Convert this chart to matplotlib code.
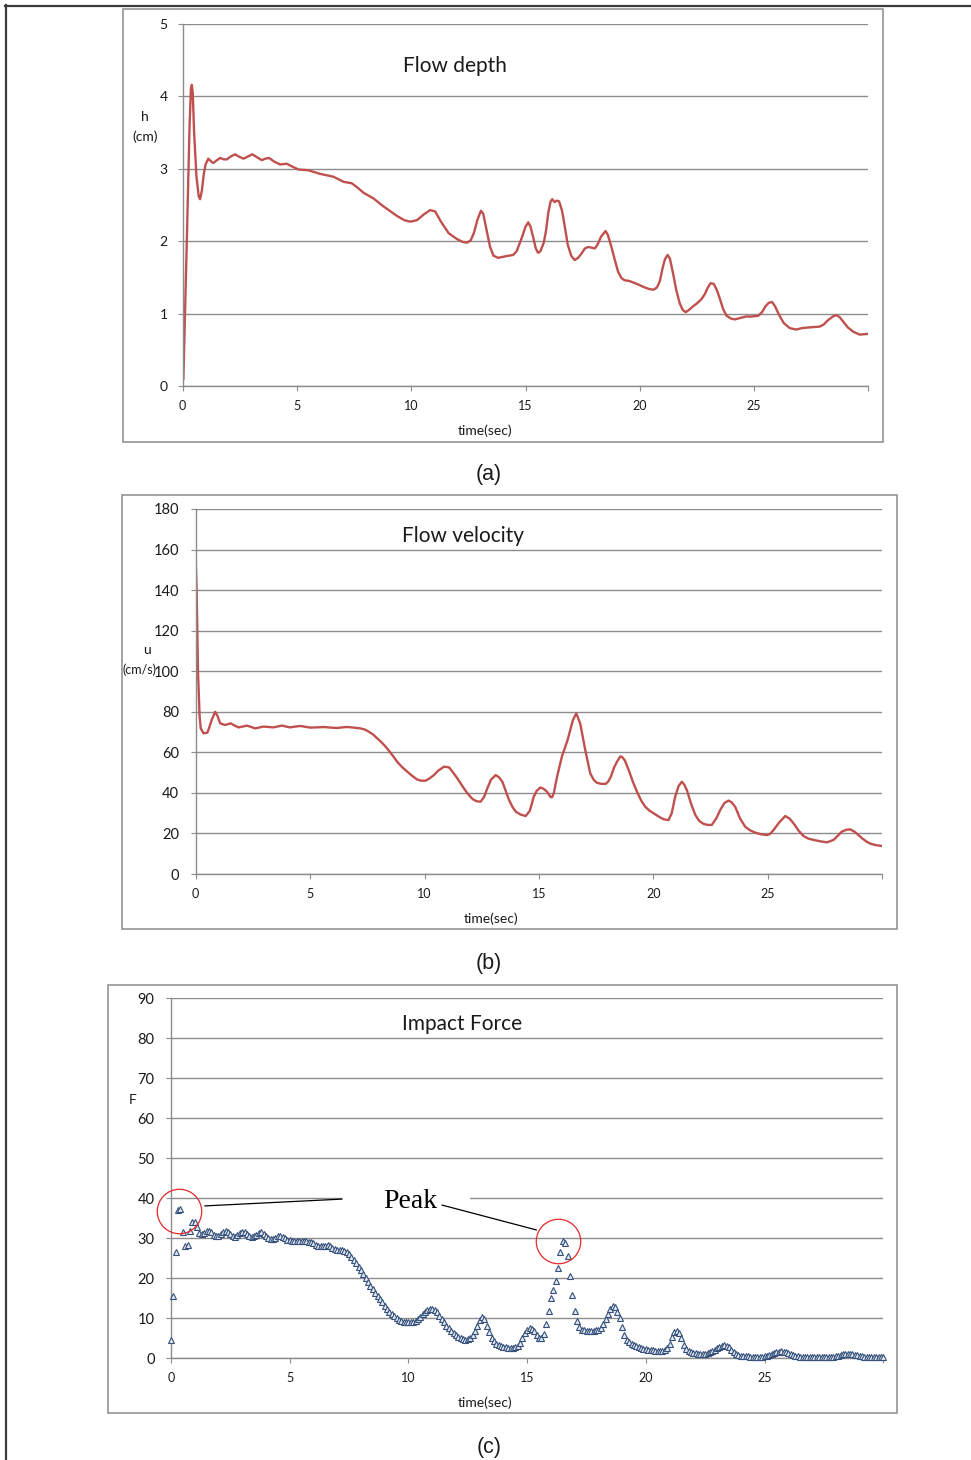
import numpy as np
import matplotlib
matplotlib.use("Agg")
import matplotlib.pyplot as plt
from matplotlib.patches import Rectangle
from matplotlib.lines import Line2D

# ---------------- data ----------------
# (a) Flow depth h (cm)
depth_t = [0.03, 0.18, 0.30, 0.36, 0.40, 0.44, 0.50, 0.60, 0.70, 0.76, 0.84, 0.92, 1.00, 1.12, 1.25,
           1.34, 1.50, 1.64, 1.80, 1.93, 2.10, 2.29, 2.45, 2.66, 2.85, 3.05, 3.25, 3.46, 3.62, 3.78,
           4.00, 4.26, 4.55, 4.80, 5.07, 5.50, 6.01, 6.60, 7.04, 7.40, 7.65, 7.91, 8.35, 8.79, 9.37,
           9.70, 9.96, 10.25, 10.55, 10.83, 11.05, 11.30, 11.64, 12.00, 12.25, 12.44, 12.60, 12.75, 12.90, 13.05,
           13.15, 13.30, 13.45, 13.60, 13.80, 14.10, 14.46, 14.61, 14.83, 15.00, 15.12, 15.22, 15.34, 15.45, 15.55,
           15.65, 15.80, 15.90, 16.00, 16.10, 16.17, 16.27, 16.36, 16.47, 16.60, 16.72, 16.85, 17.00, 17.15, 17.30,
           17.45, 17.60, 17.74, 17.90, 18.03, 18.15, 18.30, 18.50, 18.60, 18.76, 18.90, 19.05, 19.20, 19.34, 19.55,
           19.71, 19.95, 20.15, 20.40, 20.60, 20.75, 20.88, 21.00, 21.10, 21.22, 21.32, 21.46, 21.60, 21.75, 21.88,
           22.01, 22.15, 22.33, 22.50, 22.70, 22.85, 22.96, 23.10, 23.24, 23.38, 23.50, 23.65, 23.80, 24.00, 24.16,
           24.40, 24.66, 24.90, 25.19, 25.35, 25.50, 25.65, 25.79, 25.92, 26.10, 26.30, 26.56, 26.85, 27.10, 27.44,
           27.87, 28.05, 28.24, 28.45, 28.60, 28.75, 28.90, 29.10, 29.34, 29.62, 30.00]
depth_h = [0.10, 2.00, 3.60, 4.10, 4.16, 4.05, 3.50, 2.90, 2.62, 2.58, 2.70, 2.92, 3.06, 3.14, 3.10,
           3.08, 3.12, 3.15, 3.13, 3.13, 3.17, 3.20, 3.17, 3.14, 3.17, 3.20, 3.16, 3.12, 3.14, 3.15,
           3.10, 3.06, 3.07, 3.03, 2.99, 2.98, 2.93, 2.89, 2.82, 2.80, 2.74, 2.67, 2.59, 2.48, 2.35,
           2.29, 2.27, 2.29, 2.37, 2.43, 2.41, 2.27, 2.11, 2.03, 1.99, 1.98, 2.01, 2.12, 2.30, 2.42,
           2.38, 2.15, 1.92, 1.80, 1.77, 1.79, 1.81, 1.86, 2.04, 2.20, 2.26, 2.20, 2.05, 1.90, 1.84,
           1.86, 1.98, 2.15, 2.40, 2.55, 2.58, 2.54, 2.56, 2.55, 2.42, 2.20, 1.95, 1.80, 1.74, 1.77,
           1.83, 1.90, 1.92, 1.91, 1.90, 1.95, 2.06, 2.14, 2.09, 1.92, 1.75, 1.58, 1.49, 1.46, 1.45,
           1.43, 1.40, 1.37, 1.34, 1.33, 1.36, 1.45, 1.63, 1.75, 1.81, 1.76, 1.55, 1.32, 1.14, 1.05,
           1.02, 1.05, 1.10, 1.14, 1.20, 1.27, 1.35, 1.42, 1.41, 1.32, 1.21, 1.06, 0.97, 0.93, 0.92,
           0.94, 0.96, 0.96, 0.97, 1.02, 1.10, 1.15, 1.16, 1.10, 0.98, 0.87, 0.80, 0.78, 0.80, 0.81,
           0.82, 0.85, 0.91, 0.96, 0.98, 0.95, 0.89, 0.81, 0.75, 0.71, 0.72]

# (b) Flow velocity u (cm/s)
vel_t = [0.01, 0.04, 0.07, 0.10, 0.13, 0.17, 0.22, 0.34, 0.51, 0.60, 0.70, 0.85, 0.95, 1.07, 1.28,
         1.53, 1.70, 1.87, 2.05, 2.23, 2.40, 2.60, 2.80, 2.96, 3.20, 3.40, 3.60, 3.77, 3.95, 4.13,
         4.35, 4.57, 4.80, 5.00, 5.30, 5.59, 5.90, 6.18, 6.40, 6.61, 6.90, 7.20, 7.40, 7.56, 7.75,
         7.93, 8.15, 8.36, 8.60, 8.80, 9.00, 9.24, 9.45, 9.66, 9.85, 10.04, 10.20, 10.41, 10.60, 10.85,
         11.07, 11.25, 11.43, 11.65, 11.87, 12.05, 12.16, 12.30, 12.45, 12.60, 12.74, 12.90, 13.11, 13.25, 13.40,
         13.55, 13.69, 13.85, 13.99, 14.20, 14.42, 14.60, 14.77, 14.90, 15.06, 15.20, 15.35, 15.50, 15.57, 15.65,
         15.79, 16.00, 16.25, 16.48, 16.63, 16.80, 17.02, 17.24, 17.40, 17.53, 17.70, 17.90, 18.02, 18.14, 18.28,
         18.41, 18.55, 18.62, 18.75, 18.92, 19.10, 19.28, 19.46, 19.64, 19.82, 20.01, 20.22, 20.44, 20.66, 20.80,
         20.95, 21.10, 21.24, 21.35, 21.46, 21.65, 21.83, 22.00, 22.19, 22.37, 22.55, 22.75, 22.92, 23.10, 23.28,
         23.40, 23.57, 23.78, 24.01, 24.23, 24.45, 24.70, 24.96, 25.10, 25.25, 25.50, 25.76, 25.95, 26.12, 26.35,
         26.56, 26.78, 27.00, 27.30, 27.58, 27.87, 28.05, 28.23, 28.45, 28.60, 28.78, 28.96, 29.14, 29.32, 29.50,
         29.69, 30.00]
vel_u = [151.0, 140.0, 120.0, 100.0, 90.0, 78.0, 71.8, 69.4, 69.7, 72.5, 76.0, 80.0, 78.0, 74.3, 73.5,
         74.3, 73.2, 72.3, 72.7, 73.2, 72.6, 71.8, 72.3, 72.7, 72.5, 72.3, 72.8, 73.2, 72.7, 72.3,
         72.7, 73.0, 72.6, 72.2, 72.3, 72.5, 72.2, 72.0, 72.3, 72.5, 72.2, 71.8, 71.2, 70.2, 68.8,
         66.9, 64.6, 62.0, 58.5, 55.4, 52.9, 50.5, 48.5, 46.7, 46.0, 46.0, 47.0, 48.8, 51.0, 52.9,
         52.6, 50.0, 47.2, 43.4, 39.8, 37.5, 36.5, 35.8, 35.7, 38.0, 42.2, 46.5, 48.8, 47.7, 45.5,
         40.8, 36.5, 32.9, 30.7, 29.3, 28.6, 31.2, 38.1, 41.0, 42.7, 42.0, 40.6, 38.0, 37.8, 40.0,
         48.0, 57.9, 66.1, 75.9, 79.2, 74.3, 61.2, 49.6, 46.3, 45.0, 44.5, 44.4, 45.5, 48.0, 52.5,
         55.4, 57.9, 57.9, 56.0, 51.3, 45.5, 40.6, 36.3, 33.2, 31.3, 29.9, 28.4, 27.0, 26.6, 30.0,
         38.1, 43.4, 45.5, 44.0, 41.4, 34.5, 29.1, 26.2, 24.7, 24.2, 24.2, 27.5, 31.6, 35.0, 36.2,
         35.5, 33.2, 27.5, 23.3, 21.5, 20.4, 19.6, 19.2, 19.8, 21.7, 25.5, 28.6, 27.3, 25.0, 21.3,
         18.7, 17.4, 16.8, 16.1, 15.6, 16.8, 18.8, 20.9, 21.9, 22.0, 20.9, 19.2, 17.4, 15.9, 14.9,
         14.3, 13.8]

# (c) Impact force F, sampled every 0.1 s from 0 to 30 s
force_step = 0.1
force_F = [
    4.6, 15.7, 26.6, 37.1, 37.3, 31.7, 28.0, 28.4, 31.9, 34.2,
    34.0, 32.8, 31.3, 31.0, 31.4, 31.9, 31.9, 31.5, 30.9, 30.5,
    30.6, 31.1, 31.7, 31.9, 31.6, 31.0, 30.5, 30.4, 30.8, 31.3,
    31.7, 31.5, 31.0, 30.6, 30.3, 30.5, 30.9, 31.3, 31.5, 31.2,
    30.7, 30.2, 29.9, 29.9, 30.2, 30.6, 30.7, 30.4, 30.0, 29.7,
    29.5, 29.3, 29.3, 29.4, 29.4, 29.3, 29.3, 29.3, 29.2, 29.0,
    28.8, 28.4, 28.2, 28.1, 28.1, 28.2, 28.3, 28.1, 27.7, 27.4,
    27.2, 27.1, 27.0, 26.9, 26.6, 26.1, 25.4, 24.6, 23.8, 22.9,
    22.0, 21.0, 20.1, 19.1, 18.2, 17.3, 16.4, 15.6, 14.8, 14.0,
    13.2, 12.4, 11.7, 11.0, 10.5, 10.1, 9.7, 9.4, 9.2, 9.0,
    9.0, 9.0, 9.1, 9.4, 9.9, 10.4, 11.0, 11.6, 12.1, 12.4,
    12.4, 12.1, 11.5, 10.7, 9.8, 9.0, 8.2, 7.5, 6.9, 6.3,
    5.8, 5.4, 5.0, 4.8, 4.7, 4.8, 5.1, 5.8, 6.8, 8.2,
    9.6, 10.3, 9.8, 8.2, 6.6, 5.2, 4.3, 3.7, 3.3, 3.0,
    2.9, 2.8, 2.7, 2.7, 2.7, 2.8, 3.1, 3.9, 5.0, 6.3,
    7.1, 7.5, 7.3, 6.8, 5.9, 5.0, 5.0, 6.2, 8.5, 11.9,
    15.0, 17.2, 19.4, 22.7, 26.7, 29.4, 28.9, 25.6, 20.6, 15.8,
    11.9, 9.4, 7.9, 7.1, 7.0, 6.9, 6.9, 6.9, 6.9, 7.0,
    7.2, 7.7, 8.6, 9.8, 11.2, 12.4, 13.1, 12.8, 11.7, 10.0,
    7.8, 5.8, 4.6, 4.0, 3.6, 3.3, 3.0, 2.8, 2.6, 2.4,
    2.3, 2.2, 2.1, 2.0, 1.9, 1.9, 1.9, 1.9, 2.2, 2.7,
    3.6, 5.4, 6.7, 6.9, 6.4, 5.0, 3.4, 2.3, 1.8, 1.5,
    1.4, 1.3, 1.2, 1.2, 1.2, 1.2, 1.3, 1.5, 1.8, 2.2,
    2.6, 2.9, 3.2, 3.4, 3.2, 2.8, 2.2, 1.7, 1.2, 0.9,
    0.7, 0.6, 0.5, 0.5, 0.4, 0.4, 0.4, 0.4, 0.4, 0.4,
    0.5, 0.6, 0.8, 1.1, 1.3, 1.5, 1.7, 1.8, 1.7, 1.6,
    1.4, 1.2, 0.9, 0.7, 0.5, 0.4, 0.3, 0.3, 0.3, 0.3,
    0.3, 0.3, 0.3, 0.3, 0.3, 0.3, 0.3, 0.3, 0.3, 0.4,
    0.5, 0.7, 0.9, 1.0, 1.0, 1.0, 1.0, 1.0, 0.9, 0.8,
    0.6, 0.5, 0.4, 0.3, 0.3, 0.3, 0.3, 0.3, 0.3, 0.3,
    0.3]
force_t = np.arange(len(force_F)) * force_step

x_ticks = [0, 5, 10, 15, 20, 25, 30]
x_ticklabels = ["0", "5", "10", "15", "20", "25", ""]
depth_yticks = [0, 1, 2, 3, 4, 5]
vel_yticks = [0, 20, 40, 60, 80, 100, 120, 140, 160, 180]
force_yticks = [0, 10, 20, 30, 40, 50, 60, 70, 80, 90]

peak_times = [0.34, 16.3]
peak_values = [36.8, 29.3]

# ---------------- styling ----------------
W, H = 971, 1460
fig = plt.figure(figsize=(W / 100, H / 100), dpi=100)
fig.patch.set_facecolor("white")

UI = "Lato"
GRID = "#8c8c8c"
RED = "#c0504d"
TXT = "#1a1a1a"


def fx(x):
    return x / W


def fy(y):
    return 1 - y / H


def border(x0, y0, x1, y1):
    fig.add_artist(Rectangle((fx(x0), fy(y1)), fx(x1) - fx(x0), fy(y0) - fy(y1),
                             transform=fig.transFigure, fill=False,
                             edgecolor="#8a8a8a", linewidth=1.1))


def make_ax(l, t, r, b, ymax, yticks, ysize, xsize, ypad, xpad):
    ax = fig.add_axes([fx(l), fy(b), fx(r) - fx(l), fy(t) - fy(b)])
    ax.set_xlim(0, 30)
    ax.set_ylim(0, ymax)
    ax.set_xticks(x_ticks)
    ax.set_xticklabels(x_ticklabels)
    ax.set_yticks(yticks)
    ax.set_yticklabels([str(v) for v in yticks])
    for s in ("top", "right"):
        ax.spines[s].set_visible(False)
    for s in ("left", "bottom"):
        ax.spines[s].set_color(GRID)
        ax.spines[s].set_linewidth(1.0)
    ax.yaxis.grid(True, color=GRID, linewidth=1.0)
    ax.set_axisbelow(True)
    ax.tick_params(axis="both", direction="out", length=3.8, width=0.8, color=GRID)
    ax.tick_params(axis="y", labelsize=ysize, pad=ypad, labelcolor=TXT)
    ax.tick_params(axis="x", labelsize=xsize, pad=xpad, labelcolor=TXT)
    for lab in ax.get_xticklabels() + ax.get_yticklabels():
        lab.set_fontfamily(UI)
    ax.patch.set_alpha(0)
    return ax


def ftext(x, y, s, size, family=UI, **kw):
    fig.text(fx(x), fy(y), s, fontsize=size, family=family, color=kw.pop("color", TXT),
             ha=kw.pop("ha", "center"), va=kw.pop("va", "center"), **kw)


# page frame
fig.add_artist(Line2D([fx(5), fx(971)], [fy(5.8), fy(5.8)], transform=fig.transFigure,
                      color="#3a3a3a", linewidth=1.6))
fig.add_artist(Line2D([fx(5.8), fx(5.8)], [fy(5), fy(1460)], transform=fig.transFigure,
                      color="#3a3a3a", linewidth=1.6))

# ---------------- (a) ----------------
border(122.7, 9.3, 883.3, 441.7)
axA = make_ax(182.7, 24, 868.3, 386, 5, depth_yticks, 10, 9, 7, 6)
axA.plot(depth_t, depth_h, color=RED, linewidth=1.7, solid_joinstyle="round")
ftext(455, 66, "Flow depth", 15)
ftext(145, 117, "h", 10)
ftext(145, 137, "(cm)", 10)
ftext(485, 431, "time(sec)", 10)
ftext(489, 474, "(a)", 15.5, family="Liberation Sans")

# ---------------- (b) ----------------
border(121.7, 494.7, 897.3, 929.3)
axB = make_ax(195.7, 509, 882.3, 874, 180, vel_yticks, 10.5, 9, 8, 6)
axB.plot(vel_t, vel_u, color=RED, linewidth=1.7, solid_joinstyle="round")
ftext(463, 536, "Flow velocity", 15)
ftext(147, 650, "u", 10)
ftext(139, 670, "(cm/s)", 9)
ftext(491, 919, "time(sec)", 10)
ftext(489, 964, "(b)", 15.5, family="Liberation Sans")

# ---------------- (c) ----------------
border(108.3, 984.7, 897.3, 1413.3)
axC = make_ax(171, 998.3, 883.3, 1358.3, 90, force_yticks, 10.5, 9, 8, 6)
axC.plot(force_t, force_F, linestyle="none", marker="^", markersize=4.2,
         markerfacecolor="#e4eaf3", markeredgecolor="#34507a", markeredgewidth=0.8,
         clip_on=False, zorder=3)
ftext(462, 1024, "Impact Force", 15)
ftext(133, 1100, "F", 10)
ftext(485, 1403, "time(sec)", 10)
ftext(489, 1447, "(c)", 15.5, family="Liberation Sans")

# annotation: white mask over gridline, leader lines, circles, text
axC.add_patch(Rectangle((7.2, 39.3), 5.4, 1.4, facecolor="white", edgecolor="none", zorder=2))
axC.plot([1.43, 7.2], [38.1, 39.8], color="black", linewidth=0.9, zorder=4)
axC.plot([11.42, 15.38], [38.3, 32.1], color="black", linewidth=0.9, zorder=4)
axC.plot(peak_times, peak_values, linestyle="none", marker="o", markersize=32,
         markerfacecolor="none", markeredgecolor="#e8282b", markeredgewidth=0.9, zorder=5,
         clip_on=False)
axC.text(10.07, 39.1, "Peak", fontsize=20, family="Liberation Serif", color="black",
         ha="center", va="center", zorder=6)

fig.savefig("out.png", dpi=100, facecolor="white")
